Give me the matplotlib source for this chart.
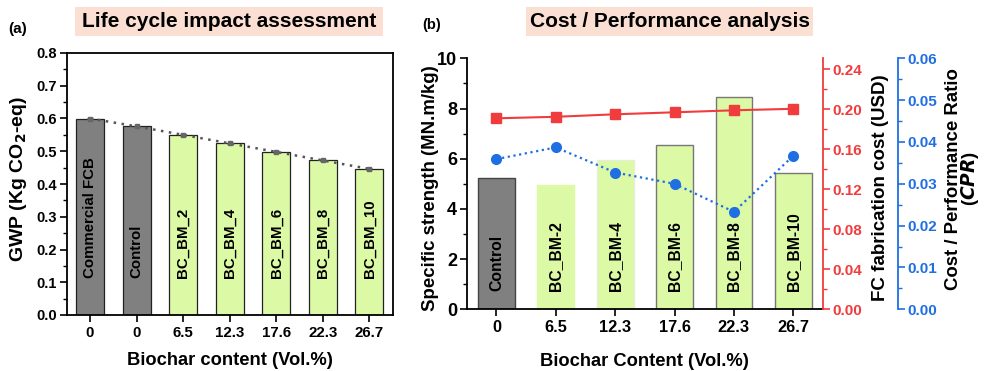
import matplotlib
matplotlib.use("Agg")
import matplotlib.pyplot as plt
from matplotlib.patches import Rectangle
from matplotlib.ticker import MultipleLocator

plt.rcParams['font.family'] = ['Liberation Sans', 'DejaVu Sans']
plt.rcParams['font.weight'] = 'bold'
plt.rcParams['axes.labelweight'] = 'bold'
plt.rcParams['mathtext.default'] = 'bf'

# ---- (a) life cycle impact assessment ----
lca_samples = ["Commercial FCB", "Control", "BC_BM_2", "BC_BM_4",
               "BC_BM_6", "BC_BM_8", "BC_BM_10"]
lca_biochar = ["0", "0", "6.5", "12.3", "17.6", "22.3", "26.7"]
gwp = [0.600, 0.576, 0.550, 0.524, 0.498, 0.472, 0.446]
gwp_err = [0.002, 0.002, 0.002, 0.002, 0.002, 0.002, 0.002]

# ---- (b) cost / performance analysis ----
cp_samples = ["Control", "BC_BM-2", "BC_BM-4", "BC_BM-6", "BC_BM-8", "BC_BM-10"]
cp_biochar = ["0", "6.5", "12.3", "17.6", "22.3", "26.7"]
specific_strength = [5.24, 4.94, 5.93, 6.53, 8.46, 5.44]
fab_cost = [0.191, 0.1925, 0.195, 0.197, 0.199, 0.2005]
cpr = [0.0359, 0.0387, 0.0327, 0.0300, 0.0233, 0.0367]

GREY = "#808080"
GREEN = "#dcf9a6"
RED = "#f03c3c"
BLUE = "#1f6fe3"
PEACH = "#fbdfd2"

W, H = 985, 371
fig = plt.figure(figsize=(W / 100, H / 100), dpi=100)


def px_axes(x0, y0, x1, y1):
    return fig.add_axes([x0 / W, 1 - y1 / H, (x1 - x0) / W, (y1 - y0) / H])


def title_box(x0, y0, x1, y1, text):
    fig.add_artist(Rectangle((x0 / W, 1 - y1 / H), (x1 - x0) / W, (y1 - y0) / H,
                             transform=fig.transFigure, facecolor=PEACH,
                             edgecolor="none"))
    fig.text((x0 + x1) / 2 / W, 1 - (y0 + y1) / 2 / H, text, ha="center",
             va="center", fontsize=15, fontweight="bold")


# ================= panel (a) =================
ax = px_axes(66.7, 53, 392.7, 315)
xa = list(range(len(gwp)))
colors_a = [GREY, GREY] + [GREEN] * 5
ax.bar(xa, gwp, width=0.6, color=colors_a, edgecolor="#222222", linewidth=0.9,
       zorder=2)
ax.errorbar(xa, gwp, yerr=gwp_err, fmt="s", color="#666666", markersize=3,
            capsize=2, elinewidth=0.8, zorder=3)
ax.plot(xa, gwp, linestyle=(0, (1, 2.2)), color="#555555", linewidth=1.8,
        zorder=3)
for i, name in enumerate(lca_samples):
    ax.text(i, 0.112, name, rotation=90, ha="center", va="bottom",
            fontsize=10.8, fontweight="bold", zorder=4)
ax.set_xlim(-0.5, len(gwp) - 0.5)
ax.set_ylim(0, 0.8)
ax.set_xticks(xa)
ax.set_xticklabels(lca_biochar)
ax.yaxis.set_major_locator(MultipleLocator(0.1))
ax.yaxis.set_minor_locator(MultipleLocator(0.05))
ax.yaxis.set_major_formatter(plt.FormatStrFormatter("%.1f"))
ax.tick_params(axis="y", which="major", direction="out", length=5, width=1.2,
               labelsize=10.5, pad=2)
ax.tick_params(axis="y", which="minor", direction="out", length=3, width=1.0)
ax.tick_params(axis="x", direction="out", length=5, width=1.2, labelsize=10.8,
               pad=3)
for s in ax.spines.values():
    s.set_linewidth(1.3)
ax.set_ylabel(r"GWP (Kg CO$_2$-eq)", fontsize=14, fontweight="bold")
ax.yaxis.set_label_coords(-0.149, 0.521)
ax.yaxis.label.set_verticalalignment("center")
ax.set_xlabel("Biochar content (Vol.%)", fontsize=13.2, fontweight="bold")
ax.xaxis.set_label_coords(0.5, -0.172)
ax.xaxis.label.set_verticalalignment("center")

fig.text(8 / W, 1 - 29 / H, "(a)", fontsize=11, fontweight="bold",
         va="center", ha="left")
title_box(75, 7, 383, 36, "Life cycle impact assessment")

# ================= panel (b) =================
bx = px_axes(466.7, 58.3, 823, 309.3)
xb = list(range(len(specific_strength)))
colors_b = [GREY] + [GREEN] * 5
edges_b = ["#444444", GREEN, "#e6efd5", "#777777", "#777777", "#777777"]
bx.bar(xb, specific_strength, width=0.62, color=colors_b, edgecolor=edges_b,
       linewidth=1.0, zorder=1)
for i, name in enumerate(cp_samples):
    bx.text(i, 0.74, name, rotation=90, ha="center", va="bottom",
            fontsize=11.3, fontweight="bold", zorder=4)
bx.set_xlim(-0.5, len(specific_strength) - 0.5)
bx.set_ylim(0, 10)
bx.set_xticks(xb)
bx.set_xticklabels(cp_biochar)
bx.yaxis.set_major_locator(MultipleLocator(2))
bx.yaxis.set_minor_locator(MultipleLocator(1))
bx.tick_params(axis="y", which="major", direction="out", length=5, width=1.2,
               labelsize=13, pad=2)
bx.tick_params(axis="y", which="minor", direction="out", length=3, width=1.0)
bx.tick_params(axis="x", direction="out", length=5, width=1.2, labelsize=11.8,
               pad=3)
bx.spines["top"].set_visible(False)
bx.spines["right"].set_visible(False)
bx.spines["left"].set_linewidth(1.3)
bx.spines["bottom"].set_linewidth(1.3)
bx.set_ylabel("Specific strength (MN.m/kg)", fontsize=13.4, fontweight="bold")
bx.yaxis.set_label_coords(-0.103, 0.481)
bx.yaxis.label.set_verticalalignment("center")
bx.set_xlabel("Biochar Content (Vol.%)", fontsize=13.2, fontweight="bold")
bx.xaxis.set_label_coords(0.5, -0.208)
bx.xaxis.label.set_verticalalignment("center")

# fabrication cost axis (red)
rx = bx.twinx()
rx.plot(xb, fab_cost, color=RED, marker="s", markersize=6.5, linewidth=1.5,
        zorder=3)
rx.set_ylim(0, 0.251)
rx.yaxis.set_major_locator(MultipleLocator(0.04))
rx.yaxis.set_minor_locator(MultipleLocator(0.02))
rx.yaxis.set_major_formatter(plt.FormatStrFormatter("%.2f"))
for s in ["top", "left", "bottom"]:
    rx.spines[s].set_visible(False)
rx.spines["right"].set_color(RED)
rx.spines["right"].set_linewidth(1.3)
rx.tick_params(axis="y", which="major", direction="out", length=5, width=1.2,
               colors=RED, labelsize=11, pad=2)
rx.tick_params(axis="y", which="minor", direction="out", length=3, width=1.0,
               colors=RED)
rx.set_ylabel("FC fabrication cost (USD)", fontsize=13.5, fontweight="bold",
              color="black")
rx.yaxis.set_label_coords(1.160, 0.485)
rx.yaxis.label.set_verticalalignment("center")

# cost / performance ratio axis (blue)
cx = bx.twinx()
cx.plot(xb, cpr, color=BLUE, marker="o", markersize=7, linewidth=1.6,
        linestyle=(0, (1, 1.6)), zorder=3)
cx.set_ylim(0, 0.06)
cx.yaxis.set_major_locator(MultipleLocator(0.01))
cx.yaxis.set_minor_locator(MultipleLocator(0.005))
cx.yaxis.set_major_formatter(plt.FormatStrFormatter("%.2f"))
for s in ["top", "left", "bottom"]:
    cx.spines[s].set_visible(False)
cx.spines["right"].set_position(("axes", 1.2106))
cx.spines["right"].set_color(BLUE)
cx.spines["right"].set_linewidth(1.3)
cx.tick_params(axis="y", which="major", direction="out", length=5, width=1.2,
               colors=BLUE, labelsize=11, pad=2)
cx.tick_params(axis="y", which="minor", direction="out", length=3, width=1.0,
               colors=BLUE)
cx.set_ylabel("Cost / Performance Ratio\n($\\boldsymbol{CPR}$)", fontsize=13.4,
              fontweight="bold", color="black", linespacing=0.85)
cx.yaxis.set_label_coords(1.393, 0.52)
cx.yaxis.label.set_verticalalignment("center")

fig.text(422 / W, 1 - 25 / H, "(b)", fontsize=10.5, fontweight="bold",
         va="center", ha="left")
title_box(526, 7, 813, 36, "Cost / Performance analysis")

fig.savefig("out.png", dpi=100)
